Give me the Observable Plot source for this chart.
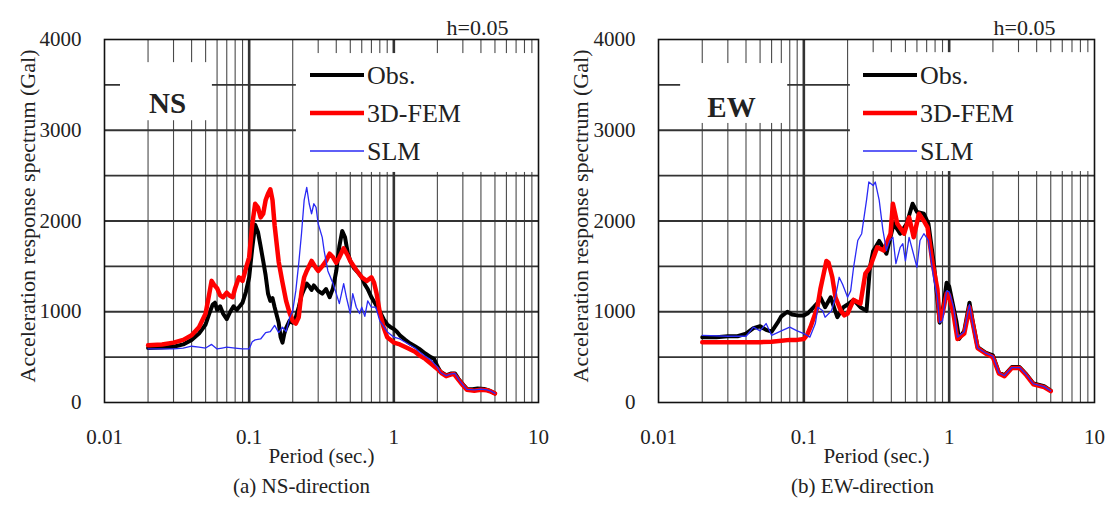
<!DOCTYPE html>
<html>
<head>
<meta charset="utf-8">
<script src="https://cdn.jsdelivr.net/npm/d3@7"></script>
<script src="https://cdn.jsdelivr.net/npm/@observablehq/plot@0.6"></script>
<style>
  body { margin: 0; background: #fff; }
  #wrap { position: relative; width: 1110px; height: 505px; background: #fff; }
  .panel { position: absolute; top: 0; }
</style>
</head>
<body>
<div id="wrap"></div>
<script>
// ---------- axis ticks ----------
const xTicks = [0.01, 0.1, 1, 10];
const xTickLabels = ["0.01", "0.1", "1", "10"];
const yTicks = [0, 1000, 2000, 3000, 4000];
const yTickLabels = ["0", "1000", "2000", "3000", "4000"];
const seriesNames = ["Obs.", "3D-FEM", "SLM"];

// ---------- NS direction ----------
const nsObsT = [0.02,0.025,0.03,0.035,0.04,0.045,0.05,0.053,0.056,0.058,0.06,0.063,0.066,0.07,0.074,0.078,0.082,0.086,0.09,0.095,0.1,0.105,0.11,0.115,0.12,0.125,0.13,0.135,0.14,0.145,0.15,0.16,0.165,0.17,0.175,0.18,0.19,0.2,0.21,0.22,0.23,0.24,0.25,0.26,0.27,0.28,0.3,0.32,0.34,0.36,0.38,0.4,0.42,0.44,0.46,0.48,0.5,0.53,0.56,0.6,0.63,0.66,0.7,0.75,0.8,0.85,0.9,0.95,1.0,1.05,1.1,1.2,1.3,1.4,1.5,1.65,1.8,1.9,2.0,2.1,2.3,2.5,2.65,2.8,3.0,3.2,3.5,3.8,4.2,4.6,5.0];
const nsObsA = [600,605,615,640,690,760,860,980,1080,1100,1020,1060,980,920,1000,1060,1020,1060,1100,1220,1380,1700,1960,1880,1720,1560,1400,1200,1120,1150,1050,880,720,660,760,820,900,880,940,1050,1180,1250,1310,1280,1240,1290,1230,1200,1250,1160,1260,1450,1720,1890,1820,1650,1560,1480,1440,1380,1300,1250,1160,1080,1000,920,860,830,810,780,740,690,650,620,590,540,500,480,400,340,300,320,320,260,200,150,145,155,150,130,100];

const nsFemT = [0.02,0.025,0.03,0.035,0.04,0.045,0.05,0.053,0.055,0.057,0.06,0.063,0.066,0.07,0.073,0.077,0.08,0.085,0.09,0.095,0.1,0.105,0.11,0.115,0.12,0.125,0.13,0.135,0.14,0.145,0.15,0.16,0.17,0.18,0.19,0.2,0.21,0.22,0.23,0.24,0.25,0.27,0.29,0.3,0.32,0.34,0.36,0.38,0.4,0.42,0.45,0.48,0.5,0.55,0.6,0.65,0.7,0.73,0.76,0.8,0.85,0.9,1.0,1.1,1.24,1.4,1.5,1.65,1.8,2.0,2.15,2.3,2.5,2.6,2.8,3.0,3.2,3.6,4.0,4.4,4.7,5.0];
const nsFemA = [630,640,660,690,740,830,980,1200,1340,1300,1260,1180,1160,1210,1180,1160,1260,1380,1340,1480,1600,1960,2190,2150,2040,2080,2230,2300,2350,2230,1950,1550,1320,1120,990,900,870,940,1220,1380,1450,1560,1480,1450,1500,1560,1640,1600,1540,1600,1700,1620,1560,1460,1380,1340,1380,1320,1200,990,830,720,660,640,600,560,520,480,430,370,320,290,310,315,250,190,140,130,140,135,120,100];

const nsSlmT = [0.02,0.03,0.035,0.04,0.045,0.05,0.055,0.06,0.065,0.07,0.08,0.09,0.1,0.105,0.11,0.12,0.13,0.14,0.15,0.16,0.17,0.18,0.19,0.2,0.21,0.22,0.23,0.24,0.25,0.26,0.27,0.28,0.29,0.3,0.32,0.33,0.35,0.38,0.4,0.42,0.45,0.47,0.5,0.52,0.55,0.58,0.6,0.63,0.66,0.7,0.75,0.8,0.9,1.0,1.1,1.24,1.4,1.5,1.65,1.8,2.0,2.1,2.3,2.5,2.65,2.8,3.0,3.2,3.6,4.0,4.4,4.7,5.0];
const nsSlmA = [590,590,600,620,610,600,640,590,600,610,600,590,590,670,690,700,770,780,850,770,830,780,930,1010,1230,1530,1860,2230,2370,2190,2080,2190,2150,1970,1820,1670,1450,1310,1200,1090,1310,1160,980,1200,1050,980,1050,950,1120,1050,1050,900,780,720,700,650,600,560,510,470,390,330,295,315,320,255,195,145,140,148,140,125,100];

// ---------- EW direction ----------
const ewObsT = [0.02,0.025,0.03,0.035,0.04,0.045,0.05,0.055,0.06,0.066,0.07,0.077,0.083,0.09,0.1,0.106,0.117,0.125,0.13,0.14,0.153,0.165,0.17,0.187,0.2,0.22,0.245,0.27,0.285,0.3,0.33,0.37,0.415,0.46,0.51,0.56,0.6,0.67,0.72,0.78,0.8,0.86,0.9,0.96,1.0,1.07,1.12,1.17,1.27,1.38,1.45,1.57,1.78,2.0,2.2,2.4,2.7,3.05,3.4,3.8,4.5,5.0];
const ewObsA = [720,720,730,730,760,820,840,800,780,880,950,1000,970,960,960,980,1050,1100,1160,1050,1160,1000,940,1050,1080,1130,1050,1010,1490,1670,1780,1640,1970,1860,1970,2190,2100,2080,1970,1560,1400,880,1000,1320,1280,1050,900,700,790,1100,900,610,550,520,330,300,390,390,310,210,180,130];

const ewFemT = [0.02,0.03,0.04,0.05,0.06,0.07,0.08,0.09,0.1,0.105,0.111,0.118,0.124,0.13,0.137,0.143,0.148,0.157,0.165,0.18,0.19,0.2,0.21,0.22,0.245,0.265,0.285,0.32,0.355,0.395,0.41,0.44,0.49,0.53,0.57,0.62,0.67,0.71,0.77,0.83,0.86,0.9,0.96,1.0,1.07,1.14,1.27,1.38,1.45,1.57,1.78,2.0,2.2,2.4,2.7,3.05,3.4,3.8,4.5,5.0];
const ewFemA = [665,665,665,665,670,680,690,690,700,740,830,950,1050,1250,1420,1560,1540,1380,1160,1010,960,980,1060,1130,1090,1420,1490,1710,1675,1860,2190,1970,1860,2040,1820,2080,2000,1930,1530,1250,900,980,1200,1180,980,700,760,1050,880,600,540,500,320,290,380,380,300,200,170,125];

const ewSlmT = [0.02,0.03,0.04,0.045,0.05,0.055,0.06,0.07,0.08,0.09,0.1,0.11,0.12,0.125,0.135,0.14,0.155,0.165,0.175,0.185,0.2,0.21,0.22,0.235,0.25,0.27,0.28,0.3,0.31,0.33,0.35,0.37,0.39,0.41,0.43,0.46,0.48,0.5,0.53,0.56,0.6,0.63,0.67,0.72,0.78,0.83,0.86,0.9,0.96,1.0,1.07,1.14,1.27,1.38,1.45,1.57,1.78,2.0,2.2,2.4,2.7,3.05,3.4,3.8,4.5,5.0];
const ewSlmA = [740,730,730,830,790,870,740,790,830,790,760,720,870,1050,1010,940,1010,1160,1380,1300,1160,1230,1490,1785,1860,2230,2430,2390,2430,2230,1900,1675,1785,1820,1530,1710,1750,1560,1820,1675,1490,1785,1860,1785,1380,1150,880,900,1230,1220,1060,720,780,1080,870,600,545,510,325,295,385,385,305,205,175,128];

// ---------- grid (log decades) ----------
const minorGrid = [];
for (const dec of [0.01, 0.1, 1]) for (let k = 2; k <= 9; k++) minorGrid.push(+(k * dec).toPrecision(3));
const decadeGrid = [0.1, 1];
const hGrid = [500, 1000, 1500, 2000, 2500, 3000, 3500];

const colors = {obs: "#000000", fem: "#ff0000", slm: "#2a2af5"};
const serif = "'Liberation Serif', 'Times New Roman', serif";

function toRows(T, A) { return T.map((t, i) => ({T: t, A: A[i]})); }

function panel(cfg) {
  const obs = toRows(cfg.obsT, cfg.obsA);
  const fem = toRows(cfg.femT, cfg.femA);
  const slm = toRows(cfg.slmT, cfg.slmA);
  const chart = Plot.plot({
    width: 555, height: 505,
    marginTop: 39, marginBottom: 103, marginLeft: cfg.ml, marginRight: cfg.mr,
    style: {fontFamily: serif, fontSize: "21px", color: "#222", background: "transparent", overflow: "visible"},
    x: {type: "log", domain: [0.01, 10], ticks: xTicks, tickFormat: d => xTickLabels[xTicks.indexOf(d)], tickSize: 0, tickPadding: 27, label: null},
    y: {domain: [0, 4000], ticks: yTicks, tickFormat: d => yTickLabels[yTicks.indexOf(d)], tickSize: 0, tickPadding: 23, label: null},
    marks: [
      Plot.ruleX(minorGrid, {stroke: "#4a4a4a", strokeWidth: 1.1}),
      Plot.ruleX(decadeGrid, {stroke: "#333", strokeWidth: 2.6}),
      Plot.ruleY(hGrid, {stroke: "#333", strokeWidth: 1.8}),
      Plot.rect([cfg.labelBox, cfg.legendBox], {x1: "x1", x2: "x2", y1: "y1", y2: "y2", fill: "white"}),
      Plot.frame({stroke: "#111", strokeWidth: 1.6}),
      Plot.line(obs, {x: "T", y: "A", stroke: colors.obs, strokeWidth: 4, strokeLinejoin: "round"}),
      Plot.line(fem, {x: "T", y: "A", stroke: colors.fem, strokeWidth: 4.5, strokeLinejoin: "round"}),
      Plot.line(slm, {x: "T", y: "A", stroke: colors.slm, strokeWidth: 1.3, strokeLinejoin: "round"}),
      Plot.text(["h=0.05"], {frameAnchor: "top-right", dx: cfg.hdx, dy: -20, textAnchor: "end", fontSize: 22, fill: "#222"}),
      Plot.text([cfg.dirLabel], {frameAnchor: "top-left", dx: cfg.dirDx, dy: cfg.dirDy, textAnchor: "middle", fontSize: 29, fontWeight: "bold", fill: "#222"}),
      Plot.text(["Period (sec.)"], {frameAnchor: "bottom", dy: 60, fontSize: 21, fill: "#222"}),
      Plot.text([cfg.caption], {frameAnchor: "bottom", dx: cfg.capDx, dy: 90, fontSize: 21, fill: "#222"})
    ]
  });
  const svg = d3.select(chart.tagName.toLowerCase() === "svg" ? chart : chart.querySelector("svg"));
  // legend rows (pixel offsets within the frame)
  const rowsY = [36, 74, 112];
  const legColors = [colors.obs, colors.fem, colors.slm];
  const legWidths = [4, 4.5, 1.4];
  const g = svg.append("g").attr("font-family", serif).attr("font-size", 26).attr("fill", "#222").attr("text-anchor", "start");
  seriesNames.forEach((name, i) => {
    const y = cfg.mt + rowsY[i];
    g.append("line").attr("x1", cfg.ml + cfg.legDx).attr("x2", cfg.ml + cfg.legDx + 54)
      .attr("y1", y).attr("y2", y).attr("stroke", legColors[i]).attr("stroke-width", legWidths[i]);
    g.append("text").attr("x", cfg.ml + cfg.legDx + 57).attr("y", y).attr("dy", "0.35em")
      .attr("text-anchor", "start").text(name);
  });
  // rotated y-axis title
  svg.append("text").attr("transform", `translate(${cfg.ylx},216) rotate(-90)`)
    .attr("text-anchor", "middle").attr("dy", "0.35em")
    .attr("font-family", serif).attr("font-size", 22).attr("fill", "#222")
    .text("Acceleration response spectrum (Gal)");
  const div = document.createElement("div");
  div.className = "panel";
  div.style.left = cfg.left + "px";
  div.appendChild(chart);
  document.getElementById("wrap").appendChild(div);
}

panel({
  left: 0, ml: 104, mr: 17, mt: 39,
  obsT: nsObsT, obsA: nsObsA, femT: nsFemT, femA: nsFemA, slmT: nsSlmT, slmA: nsSlmA,
  labelBox: {x1: 0.0129, x2: 0.0557, y1: 3105, y2: 3745},
  legendBox: {x1: 0.212, x2: 10, y1: 2535, y2: 3845},
  dirLabel: "NS", dirDx: 63, dirDy: 53, hdx: -30, legDx: 206, ylx: 27,
  caption: "(a) NS-direction", capDx: -20
});
panel({
  left: 555, ml: 103, mr: 16, mt: 39,
  obsT: ewObsT, obsA: ewObsA, femT: ewFemT, femA: ewFemA, slmT: ewSlmT, slmA: ewSlmA,
  labelBox: {x1: 0.0142, x2: 0.0775, y1: 3075, y2: 3735},
  legendBox: {x1: 0.209, x2: 10, y1: 2545, y2: 3855},
  dirLabel: "EW", dirDx: 73, dirDy: 57, hdx: -39, legDx: 205, ylx: 25,
  caption: "(b) EW-direction", capDx: -14
});
</script>
</body>
</html>
